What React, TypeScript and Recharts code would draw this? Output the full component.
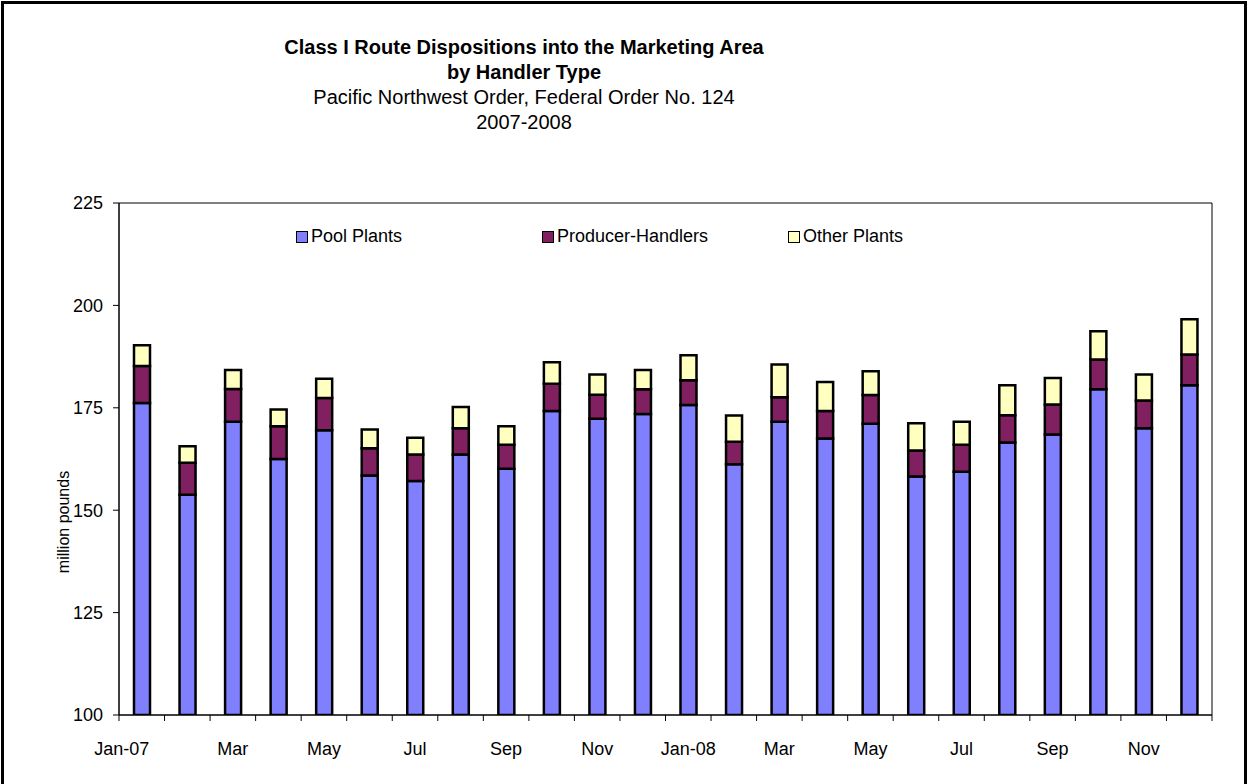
import React from 'react';
import { BarChart, Bar, XAxis, YAxis, Legend, ReferenceArea } from 'recharts';

const periods = [
  'Jan-07', 'Feb-07', 'Mar-07', 'Apr-07', 'May-07', 'Jun-07', 'Jul-07', 'Aug-07', 'Sep-07', 'Oct-07', 'Nov-07', 'Dec-07',
  'Jan-08', 'Feb-08', 'Mar-08', 'Apr-08', 'May-08', 'Jun-08', 'Jul-08', 'Aug-08', 'Sep-08', 'Oct-08', 'Nov-08', 'Dec-08',
];
const tickLabels = [
  'Jan-07', '', 'Mar', '', 'May', '', 'Jul', '', 'Sep', '', 'Nov', '',
  'Jan-08', '', 'Mar', '', 'May', '', 'Jul', '', 'Sep', '', 'Nov', '',
];
const poolPlants = [
  176.2, 153.8, 171.6, 162.5, 169.5, 158.5, 157.1, 163.6, 160.1, 174.2, 172.3, 173.5,
  175.7, 161.2, 171.6, 167.5, 171.1, 158.2, 159.4, 166.5, 168.5, 179.5, 170.0, 180.5,
];
const producerHandlers = [
  9.0, 7.8, 8.0, 8.0, 7.9, 6.6, 6.5, 6.4, 5.9, 6.7, 5.9, 6.0,
  6.0, 5.5, 6.0, 6.7, 7.0, 6.4, 6.6, 6.7, 7.3, 7.3, 6.8, 7.5,
];
const otherPlants = [
  5.1, 4.0, 4.6, 4.1, 4.7, 4.6, 4.1, 5.2, 4.5, 5.2, 4.9, 4.7,
  6.1, 6.4, 8.0, 7.1, 5.8, 6.6, 5.6, 7.3, 6.5, 6.9, 6.3, 8.6,
];
const seriesNames = ['Pool Plants', 'Producer-Handlers', 'Other Plants'];
const yTicks = [100, 125, 150, 175, 200, 225];

const data = periods.map((p, i) => ({
  period: p,
  pool: poolPlants[i],
  producer: producerHandlers[i],
  other: otherPlants[i],
}));

const FONT = '"Liberation Sans", Arial, sans-serif';

// label on every other month, tick marks on the band edges
const MonthTick = (props: any) => {
  const { x, y, payload, index, visibleTicksCount } = props;
  const half = payload.offset || 0;
  const shift = index === 0 ? -20 : 0;
  const isLast = index === visibleTicksCount - 1;
  const label = tickLabels[index];
  return (
    <g>
      <line x1={x - half} x2={x - half} y1={y - 8} y2={y - 2} stroke="#000" strokeWidth={1} />
      {isLast && <line x1={x + half} x2={x + half} y1={y - 8} y2={y - 2} stroke="#000" strokeWidth={1} />}
      {label && (
        <text x={x + shift} y={y + 32} textAnchor="middle" fontFamily={FONT} fontSize={18} fill="#000">
          {label}
        </text>
      )}
    </g>
  );
};

const renderLegend = (props: any) => {
  const items = [...props.payload].sort(
    (a: any, b: any) => seriesNames.indexOf(a.value) - seriesNames.indexOf(b.value)
  );
  return (
    <div style={{ display: 'flex', fontFamily: FONT, fontSize: 18, color: '#000' }}>
      {items.map((p: any) => (
        <div key={p.value} style={{ width: 246, display: 'flex', alignItems: 'center' }}>
          <span
            style={{
              display: 'inline-block',
              width: 10,
              height: 10,
              background: p.color,
              border: '1.5px solid #000',
              marginRight: 3,
            }}
          />
          {p.value}
        </div>
      ))}
    </div>
  );
};

export default function App() {
  return (
    <div
      style={{
        position: 'absolute',
        left: 0,
        top: 0,
        width: 1248,
        height: 784,
        background: '#fff',
        overflow: 'hidden',
      }}
    >
      <div
        style={{
          position: 'absolute',
          left: 1,
          top: 1,
          width: 1240,
          height: 800,
          border: '3px solid #000',
        }}
      />
      <div
        style={{
          position: 'absolute',
          left: 224,
          top: 35,
          width: 600,
          textAlign: 'center',
          fontFamily: FONT,
          fontSize: 20,
          lineHeight: '25px',
          color: '#000',
        }}
      >
        <div style={{ fontWeight: 'bold' }}>Class I Route Dispositions into the Marketing Area</div>
        <div style={{ fontWeight: 'bold' }}>by Handler Type</div>
        <div>Pacific Northwest Order, Federal Order No. 124</div>
        <div>2007-2008</div>
      </div>
      <div style={{ position: 'absolute', left: 0, top: 0 }}>
        <BarChart
          width={1248}
          height={784}
          data={data}
          margin={{ top: 203, right: 36, bottom: 29, left: 59 }}
          barCategoryGap={0}
        >
          <XAxis
            dataKey="period"
            interval={0}
            tickLine={false}
            axisLine={{ stroke: '#000', strokeWidth: 1 }}
            tick={<MonthTick />}
            tickSize={8}
            tickMargin={0}
            height={40}
          />
          <YAxis
            domain={[100, 225]}
            ticks={yTicks}
            allowDataOverflow
            width={60}
            axisLine={{ stroke: '#000', strokeWidth: 1 }}
            tickLine={{ stroke: '#000', strokeWidth: 1 }}
            tickSize={6}
            tickMargin={10}
            tick={{ fontFamily: FONT, fontSize: 18, fill: '#000' }}
            label={{
              content: (p: any) => {
                const vb = p.viewBox;
                const cx = vb.x + 4;
                const cy = vb.y + vb.height / 2 + 63;
                return (
                  <text
                    x={cx}
                    y={cy}
                    transform={`rotate(-90 ${cx} ${cy})`}
                    textAnchor="middle"
                    dominantBaseline="central"
                    fontFamily={FONT}
                    fontSize={16}
                    fill="#000"
                  >
                    million pounds
                  </text>
                );
              },
            }}
          />
          <ReferenceArea
            x1={periods[0]}
            x2={periods[periods.length - 1]}
            y1={yTicks[0]}
            y2={yTicks[yTicks.length - 1]}
            fill="none"
            fillOpacity={0}
            stroke="#000"
            strokeWidth={1}
            ifOverflow="visible"
          />
          <Legend
            verticalAlign="middle"
            align="center"
            content={renderLegend}
            wrapperStyle={{ top: 226, left: 296, width: 760 }}
          />
          <Bar
            dataKey="pool"
            name={seriesNames[0]}
            stackId="a"
            fill="#8080FF"
            stroke="#000"
            strokeWidth={2.5}
            barSize={16}
            isAnimationActive={false}
          />
          <Bar
            dataKey="producer"
            name={seriesNames[1]}
            stackId="a"
            fill="#802060"
            stroke="#000"
            strokeWidth={2.5}
            barSize={16}
            isAnimationActive={false}
          />
          <Bar
            dataKey="other"
            name={seriesNames[2]}
            stackId="a"
            fill="#FFFFC0"
            stroke="#000"
            strokeWidth={2.5}
            barSize={16}
            isAnimationActive={false}
          />
        </BarChart>
      </div>
    </div>
  );
}
